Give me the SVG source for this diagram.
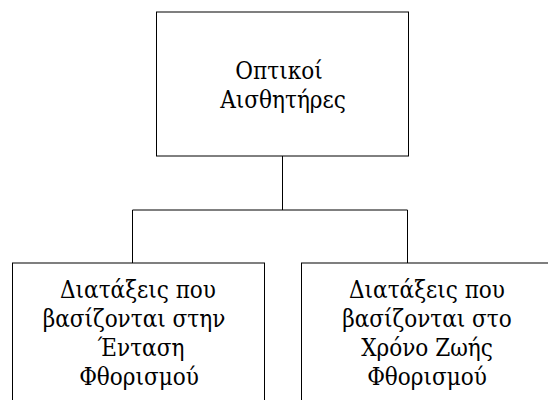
<svg xmlns="http://www.w3.org/2000/svg" width="548" height="400" viewBox="0 0 548 400">
  <style>
    .box { fill: #ffffff; stroke: #000000; stroke-width: 1; }
    .link { fill: none; stroke: #000000; stroke-width: 1; }
    .label { font-family: "DejaVu Serif Condensed", "DejaVu Serif", serif; font-stretch: condensed; font-size: 24px; fill: #000000; text-anchor: middle; }
  </style>
  <rect width="548" height="400" fill="#ffffff"/>

  <g id="connectors">
    <path class="link" d="M282.5 156 V210 M132.5 210 H407.5 M132.5 210 V263 M407.5 210 V263"/>
  </g>

  <g id="optical-sensors">
    <rect class="box" x="156.5" y="12" width="252" height="144"/>
    <text class="label" x="279" y="79">Οπτικοί</text>
    <text class="label" x="283" y="108">Αισθητήρες</text>
  </g>

  <g id="intensity-devices">
    <rect class="box" x="12.5" y="263" width="252" height="144"/>
    <text class="label" x="138" y="298">Διατάξεις που</text>
    <text class="label" x="134" y="327">βασίζονται στην</text>
    <text class="label" x="141" y="356">Ένταση</text>
    <text class="label" x="139" y="385">Φθορισμού</text>
  </g>

  <g id="lifetime-devices">
    <rect class="box" x="301.5" y="263" width="252" height="144"/>
    <text class="label" x="427" y="298">Διατάξεις που</text>
    <text class="label" x="427" y="327">βασίζονται στο</text>
    <text class="label" x="427" y="356">Χρόνο Ζωής</text>
    <text class="label" x="427" y="385">Φθορισμού</text>
  </g>
</svg>
